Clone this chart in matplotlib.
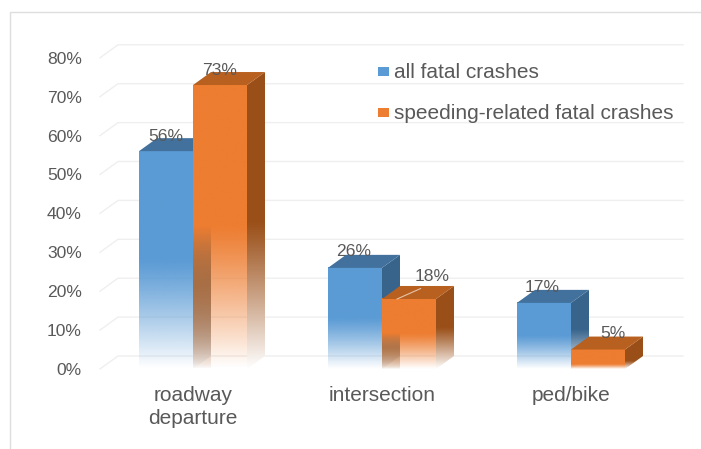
import numpy as np
import matplotlib
matplotlib.use("Agg")
import matplotlib.pyplot as plt
from matplotlib.lines import Line2D
from matplotlib.patches import Polygon, Rectangle

plt.rcParams['font.family'] = ['Liberation Sans', 'DejaVu Sans']

categories = ["roadway\ndeparture", "intersection", "ped/bike"]
all_crashes = [56, 26, 17]
speeding = [73, 18, 5]
y_ticks = [0, 10, 20, 30, 40, 50, 60, 70, 80]
series_names = ["all fatal crashes", "speeding-related fatal crashes"]

W, H = 701, 449
TEXT = "#595959"
BLUE, BLUE_TOP, BLUE_SIDE = "#5b9bd5", "#41719c", "#38648c"
ORANGE, ORANGE_TOP, ORANGE_SIDE = "#ed7d31", "#b8601f", "#9a4f18"

# layout in pixels of the reference
PX_LEFT, PX_RIGHT = 100, 683
PX_ZERO, PX_TOP = 369, 44
PX_PER_PCT = 3.89
PX_PER_CAT = 189
CENTER0_PX = 193

bar_w = 54 / PX_PER_CAT
dx = 18 / PX_PER_CAT
dy = 13 / PX_PER_PCT

fig = plt.figure(figsize=(W / 100, H / 100), dpi=100)
ax = fig.add_axes([PX_LEFT / W, 1 - PX_ZERO / H,
                   (PX_RIGHT - PX_LEFT) / W, (PX_ZERO - PX_TOP) / H])
ax.set_xlim((PX_LEFT - CENTER0_PX) / PX_PER_CAT, (PX_RIGHT - CENTER0_PX) / PX_PER_CAT)
ax.set_ylim(0, (PX_ZERO - PX_TOP) / PX_PER_PCT)
ax.patch.set_alpha(0)
for s in ax.spines.values():
    s.set_visible(False)


def fade_from(top):
    # short bars keep their colour further down
    return 0.5 if top >= 8 else 0.75


def fade_image(color, x0, x1, top, z):
    # solid down to fade_from of the height, then fading out towards the floor
    n = 128
    a = np.ones((n, 1, 4))
    a[:, :, :3] = matplotlib.colors.to_rgb(color)
    t = np.linspace(0, 1, n)
    start = fade_from(top)
    a[:, 0, 3] = 1 - np.clip((t - start) / (1 - start), 0, 1) ** 1.15
    ax.imshow(a, extent=[x0, x1, 0, top], aspect="auto", origin="upper",
              zorder=z, interpolation="bilinear")


def draw_bar(x0, value, front, top_c, side, z):
    x1 = x0 + bar_w
    fade_image(front, x0, x1, value, z + 0.2)
    # side face is a parallelogram, with a white fading overlay
    ax.add_patch(Polygon([(x1, value), (x1 + dx, value + dy), (x1 + dx, dy), (x1, 0)],
                         closed=True, fc=side, ec="none", zorder=z))
    n = 128
    a = np.ones((n, 1, 4))
    t = np.linspace(0, 1, n)
    start = fade_from(value)
    a[:, 0, 3] = np.clip((t - start) / (1 - start), 0, 1) ** 1.1
    ax.imshow(a, extent=[x1, x1 + dx, 0, value + dy], aspect="auto", origin="upper",
              zorder=z + 0.1, interpolation="bilinear")
    ax.add_patch(Polygon([(x0, value), (x1, value), (x1 + dx, value + dy), (x0 + dx, value + dy)],
                         closed=True, fc=top_c, ec="none", zorder=z + 0.3))


# back wall grid lines with the short diagonal on the left wall
for v in y_ticks:
    ax.plot([ax.get_xlim()[0], ax.get_xlim()[0] + dx, ax.get_xlim()[1]],
            [v, v + dy, v + dy], color="#efefef", lw=1, zorder=1, clip_on=False)

for i in range(len(categories)):
    left = i - bar_w
    draw_bar(left, all_crashes[i], BLUE, BLUE_TOP, BLUE_SIDE, 3)
    draw_bar(i, speeding[i], ORANGE, ORANGE_TOP, ORANGE_SIDE, 4)
    # the blue side face shows through the faded orange front
    if speeding[i] >= 8:
        start = speeding[i] / 2
        n = 128
        a = np.ones((n, 1, 4))
        a[:, :, :3] = matplotlib.colors.to_rgb("#a0683c")
        t = np.linspace(0, 1, n)
        a[:, 0, 3] = np.clip(t * 2.4, 0, 0.95) * (1 - t) ** 0.6
        ax.imshow(a, extent=[i, i + dx, 0, start], aspect="auto", origin="upper",
                  zorder=4.25, interpolation="bilinear")

# light streak across the top of the 18% bar
ax.plot([1 + 0.08, 1 + 0.08 + dx * 1.3], [speeding[1], speeding[1] + dy * 0.8],
        color="#e8c4a8", lw=0.8, zorder=5)

# imshow resets the limits
ax.set_xlim((PX_LEFT - CENTER0_PX) / PX_PER_CAT, (PX_RIGHT - CENTER0_PX) / PX_PER_CAT)
ax.set_ylim(0, (PX_ZERO - PX_TOP) / PX_PER_PCT)

# value labels, nudged by hand (px) the way they sit in the reference
blue_nudge = [(0, 15), (-1, 16), (-2, 15)]
orange_nudge = [(0, 15), (23, 22), (15, 16)]
for i in range(len(categories)):
    for x, val, (nx, ny) in [(i - bar_w / 2, all_crashes[i], blue_nudge[i]),
                             (i + bar_w / 2, speeding[i], orange_nudge[i])]:
        ax.annotate(f"{val}%", (x, val), xytext=(nx * 0.72, ny * 0.72),
                    textcoords="offset points", ha="center", va="center",
                    fontsize=12.6, color=TEXT, zorder=10)

ax.set_yticks(y_ticks)
ax.set_yticklabels([f"{v}%" for v in y_ticks])
ax.set_xticks(range(len(categories)))
ax.set_xticklabels(categories, linespacing=1.3, fontsize=15)
ax.tick_params(axis="both", length=0, labelcolor=TEXT)
ax.tick_params(axis="y", pad=13, labelsize=12.6)
ax.tick_params(axis="x", pad=12)

# legend swatches and text sit inside the plot
legend_px = [71, 112]
for py, colour, name in zip(legend_px, [BLUE, ORANGE], series_names):
    fig.add_artist(Rectangle((378 / W, 1 - (py + 4.5) / H), 11 / W, 9 / H, fc=colour, ec="none",
                             transform=fig.transFigure))
    fig.text(394 / W, 1 - (py + 1.5) / H, name, fontsize=15, color=TEXT, va="center", ha="left")

# outer frame of the pasted chart
fig.add_artist(Line2D([10 / W, 10 / W, 1], [0, 1 - 12 / H, 1 - 12 / H],
                      color="#dedede", lw=1))

fig.savefig("out.png", dpi=100)
